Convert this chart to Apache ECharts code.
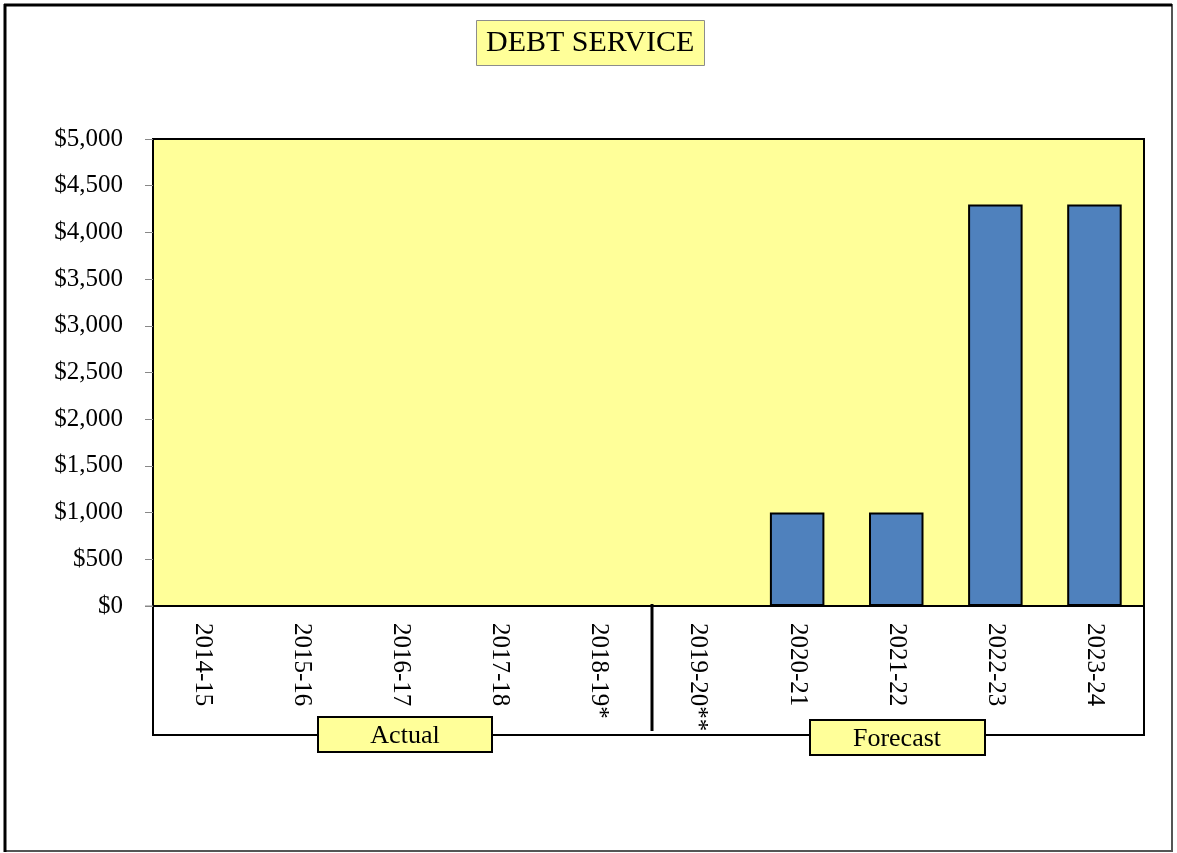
<!DOCTYPE html>
<html>
<head>
<meta charset="utf-8">
<script src="https://cdn.jsdelivr.net/npm/echarts@6/dist/echarts.min.js"></script>
<style>html,body{margin:0;padding:0;background:#fff;}#c{width:1177px;height:853px;}</style>
</head>
<body>
<div id="c"></div>
<script>
const categories = ['2014-15','2015-16','2016-17','2017-18','2018-19*','2019-20**','2020-21','2021-22','2022-23','2023-24'];
const debtService = [0,0,0,0,0,0,1000,1000,4300,4300];
const yTicks = [0,500,1000,1500,2000,2500,3000,3500,4000,4500,5000];
const groupLabels = ['Actual','Forecast'];

const FONT = '"Liberation Serif", "DejaVu Serif", serif';
const chart = echarts.init(document.getElementById('c'), null, {renderer:'canvas'});
chart.setOption({
  backgroundColor:'#ffffff',
  animation:false,
  title:{
    text:'DEBT SERVICE', left:476, top:20,
    backgroundColor:'#FFFF99', borderColor:'#8c8c8c', borderWidth:1,
    padding:[8,10,8,10],
    textStyle:{fontFamily:FONT, fontSize:30, fontWeight:'normal', color:'#000', lineHeight:30}
  },
  grid:{left:153, top:139, width:991, height:467, show:true, backgroundColor:'#FFFF99', borderColor:'#000', borderWidth:2},
  xAxis:{
    type:'category', data:categories,
    axisLine:{show:false},
    axisTick:{show:false},
    axisLabel:{rotate:-90, margin:17, fontFamily:FONT, fontSize:25, color:'#000', interval:0}
  },
  yAxis:{
    type:'value', min:yTicks[0], max:yTicks[yTicks.length-1], interval:500,
    splitLine:{show:false},
    axisLine:{show:false},
    axisTick:{show:true, length:8, lineStyle:{color:'#888'}},
    axisLabel:{margin:30, fontFamily:FONT, fontSize:25, color:'#000',
      formatter:v=>'$'+v.toLocaleString('en-US')}
  },
  series:[{
    type:'bar', data:debtService, barWidth:'55%',
    itemStyle:{color:'#4F81BD', borderColor:'#000', borderWidth:2}
  }],
  graphic:[
    {type:'rect', shape:{x:5,y:5,width:1167,height:846}, style:{fill:'none', stroke:'#555', lineWidth:2}, z:0},
    {type:'line', shape:{x1:5,y1:4,x2:5,y2:852}, style:{stroke:'#000', lineWidth:3}},
    {type:'line', shape:{x1:4,y1:5,x2:1172,y2:5}, style:{stroke:'#000', lineWidth:3}},
    {type:'rect', shape:{x:153,y:606,width:991,height:129}, style:{fill:'none', stroke:'#000', lineWidth:2}},
    {type:'line', shape:{x1:652,y1:604,x2:652,y2:731}, style:{stroke:'#000', lineWidth:3}},
    {type:'rect', shape:{x:318,y:717,width:174,height:35}, style:{fill:'#FFFF99', stroke:'#000', lineWidth:2}},
    {type:'text', x:405, y:736, style:{text:groupLabels[0], font:'26px '+FONT, fill:'#000', textAlign:'center', textVerticalAlign:'middle'}},
    {type:'rect', shape:{x:810,y:720,width:175,height:35}, style:{fill:'#FFFF99', stroke:'#000', lineWidth:2}},
    {type:'text', x:897, y:739, style:{text:groupLabels[1], font:'26px '+FONT, fill:'#000', textAlign:'center', textVerticalAlign:'middle'}},
    {type:'line', shape:{x1:145,y1:606,x2:153,y2:606}, style:{stroke:'#888', lineWidth:1}}
  ]
});
</script>
</body>
</html>
